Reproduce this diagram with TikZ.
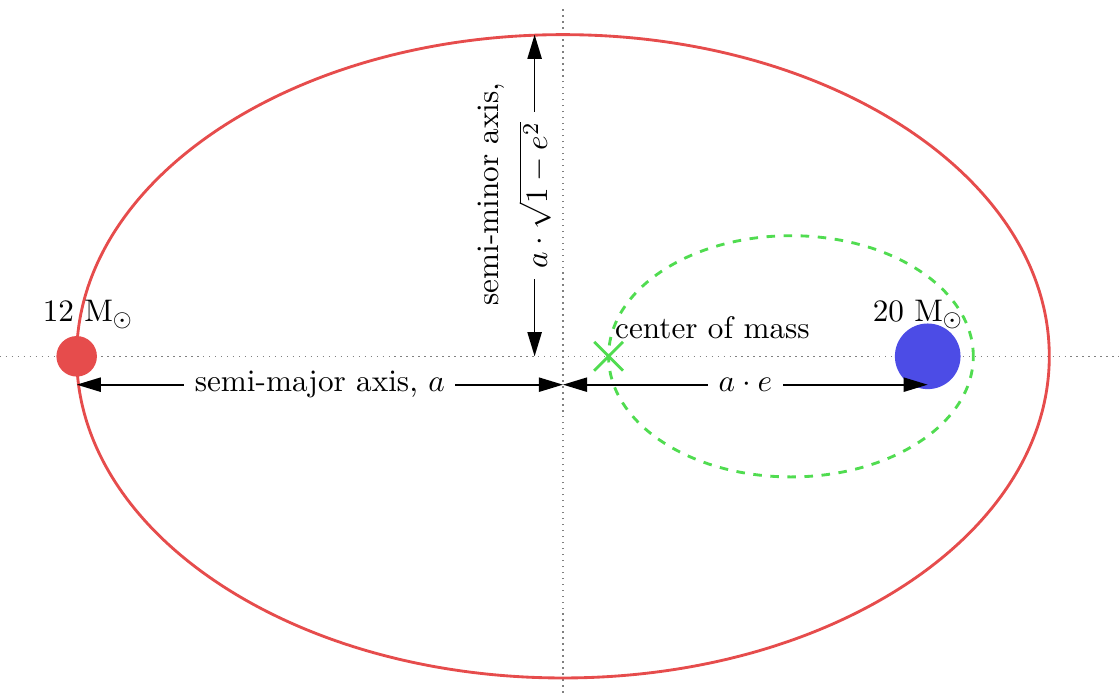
\documentclass[tikz,border=0pt,11pt]{standalone}
\usepackage{tikz}
\usetikzlibrary{arrows.meta,positioning,calc,shapes.misc}

\definecolor{starred}{RGB}{230,76,76}
\definecolor{starblue}{RGB}{76,76,230}
\definecolor{comgreen}{RGB}{80,220,80}

\begin{document}
\begin{tikzpicture}[
    orbit/.style={draw=starred, line width=1pt},
    comorbit/.style={draw=comgreen, line width=1pt, dashed},
    axis/.style={draw=gray, line width=0.5pt, dash pattern=on 0.5pt off 1.6pt},
    star/.style={circle, inner sep=0pt},
    dim/.style={draw, semithick, {Triangle[length=8.5pt,width=5pt]}-{Triangle[length=8.5pt,width=5pt]}},
    lbl/.style={fill=white}
]

\useasboundingbox (-6.946,-4.204) rectangle (6.860,4.396);

% a = 6, e = 0.75, masses 12 and 20
\coordinate (center) at (0,0);
\coordinate (com) at (0.5625,0);
\coordinate (axisW) at (-6.95,0);
\coordinate (axisE) at (6.86,0);
\coordinate (axisN) at (0,4.29);
\coordinate (axisS) at (0,-4.15);

\draw[axis] (axisW) -- (axisE);
\draw[axis] (axisS) -- (axisN);

\draw[orbit] (center) ellipse (6 and 3.9686);
\draw[comorbit] (2.8125,0) ellipse (2.25 and 1.4882);

\node[star, fill=starred, minimum size=0.5cm] (redstar) at (-6,0) {};
\node[star, fill=starblue, minimum size=0.81cm] (bluestar) at (4.5,0) {};

\node[anchor=base] (redmass) at ($(redstar)+(0.14,0.43)$) {12 M$_\odot$};
\node[anchor=base] (bluemass) at ($(bluestar)+(-0.12,0.43)$) {20 M$_\odot$};

\node[cross out, draw=comgreen, line width=1pt, minimum size=0.32cm, inner sep=0pt] (comx) at (com) {};
\node[anchor=base west, inner sep=0pt] (comlabel) at ($(com)+(0.075,0.22)$) {center of mass};

\coordinate (majW) at (-6,-0.35);
\coordinate (majE) at (0,-0.35);
\coordinate (focus) at (4.5,-0.35);
\coordinate (minS) at (-0.35,0);
\coordinate (minN) at (-0.35,3.9686);

\draw[dim] (majW) -- (majE) node[midway, lbl] {semi-major axis, $a$};
\draw[dim] (majE) -- (focus) node[midway, lbl] {$a\cdot e$};
\draw[dim] (minS) -- (minN) node[midway, lbl, rotate=90] {$a\cdot\sqrt{1-e^2}$};
\node[rotate=90, anchor=base] (minortext) at (-0.79,2.0) {semi-minor axis,};

\end{tikzpicture}
\end{document}
